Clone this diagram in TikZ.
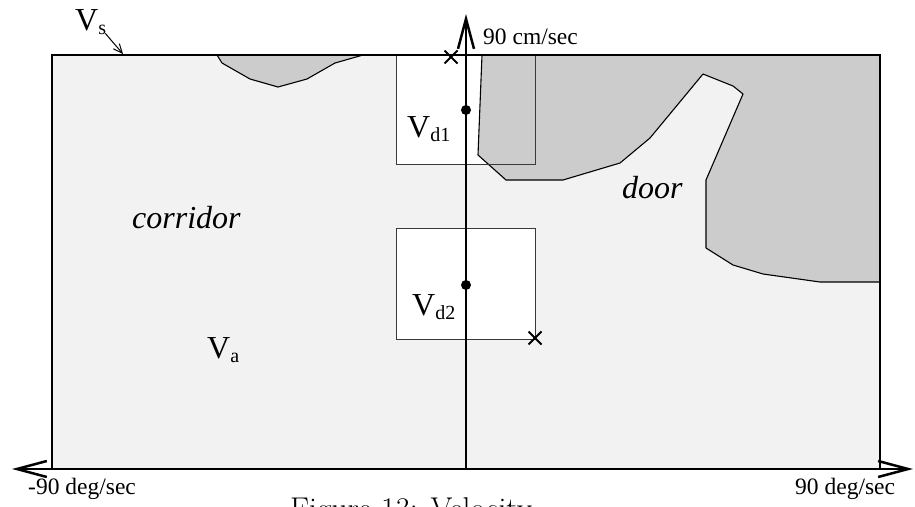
\documentclass[tikz,border=0pt]{standalone}
\usepackage{fontspec}
\newfontfamily\tnr{Liberation Serif}
\newfontfamily\capfont{Latin Modern Roman}
\usetikzlibrary{arrows.meta,shapes.misc}
\definecolor{roomfill}{HTML}{F2F2F2}
\definecolor{obstfill}{HTML}{CCCCCC}
\definecolor{boxline}{HTML}{3A3A3A}
\newcommand\lowsub[1]{\raisebox{-4pt}{\fontsize{20}{20}\selectfont #1}}
\begin{document}
\begin{tikzpicture}[x=1pt,y=-1pt,
  biglab/.style={font=\tnr\fontsize{32}{32}\selectfont, inner sep=0pt, anchor=base west},
  axlab/.style={font=\tnr\fontsize{23.5}{24}\selectfont, inner sep=0pt, anchor=base west},
  vboxfill/.style={fill=white, draw=none, inner sep=0pt, minimum width=138pt},
  vboxline/.style={draw=boxline, line width=1.3pt},
  obst/.style={fill=obstfill, draw=black, line width=1.1pt, line join=round},
  roomline/.style={draw=black, line width=2pt},
  axisline/.style={draw=black, line width=2.5pt},
  axtip/.style={-{Straight Barb[length=30pt,width=16pt]}},
  dotnode/.style={circle, fill=black, inner sep=0pt, minimum size=10pt},
  xmark/.style={cross out, draw=black, line width=2pt, inner sep=0pt, minimum size=11pt},
]
\useasboundingbox (0,0) rectangle (915,506);
\clip (0,0) rectangle (915,506);

% room background
\node[fill=roomfill, draw=none, inner sep=0pt, minimum width=828pt, minimum height=414pt] (room) at (466,262) {};

% velocity windows (fill)
\node[vboxfill, minimum height=109pt] (b1) at (466,109.5) {};
\node[vboxfill, minimum height=110pt] (b2) at (466,284) {};

% obstacles
\path[obst] (217,55) -- (222,63) -- (250,79) -- (278,87) -- (307,79) -- (335,63) -- (363,55) -- cycle;
\path[obst] (482,55) -- (478,155) -- (506,180) -- (563,180) -- (620,163) -- (650,138) -- (703,74)
  -- (733,86) -- (743,94) -- (706,180) -- (706,248) -- (733,265) -- (763,274) -- (820,282)
  -- (880,282) -- (880,55) -- cycle;

% velocity windows (outline)
\draw[vboxline] (b1.south west) rectangle (b1.north east);
\draw[vboxline] (b2.south west) rectangle (b2.north east);

% room outline
\draw[roomline] (room.south west) rectangle (room.north east);

% axes
\coordinate (xl) at (12,469);
\coordinate (xr) at (913,469);
\coordinate (yb) at (466,469);
\coordinate (yt) at (466,14);
\draw[axisline, axtip] (yb) -- (xl);
\draw[axisline, axtip] (yb) -- (xr);
\draw[axisline, axtip] (yb) -- (yt);

% points
\node[dotnode] (d1) at (466,110) {};
\node[dotnode] (d2) at (466,285) {};
\node[xmark] (x1) at (451,57) {};
\node[xmark] (x2) at (535,338) {};

% labels
\node[biglab] (vs) at (75,30) {V\lowsub{s}};
\coordinate (vstip) at (123,54);
\draw[line width=1pt, -{Straight Barb[length=9pt,width=8pt]}] ([shift={(-1,-1)}]vs.south east) -- (vstip);
\node[biglab] (vd1) at (407,137) {V\lowsub{d1}};
\node[biglab] (vd2) at (412,315) {V\lowsub{d2}};
\node[biglab] (va) at (207,358) {V\lowsub{a}};
\node[biglab, font=\tnr\itshape\fontsize{32}{32}\selectfont] (corr) at (132,228) {corridor};
\node[biglab, font=\tnr\itshape\fontsize{32}{32}\selectfont] (door) at (622,198) {door};
\node[axlab] (ylab) at (483,44) {90 cm/sec};
\node[axlab] (xllab) at (28,494) {-90 deg/sec};
\node[axlab] (xrlab) at (795,494) {90 deg/sec};
\node[inner sep=0pt, anchor=base west, font=\capfont\fontsize{31.5}{32}\selectfont] (cap) at (290,519) {Figure 13: Velocity};
\end{tikzpicture}
\end{document}
